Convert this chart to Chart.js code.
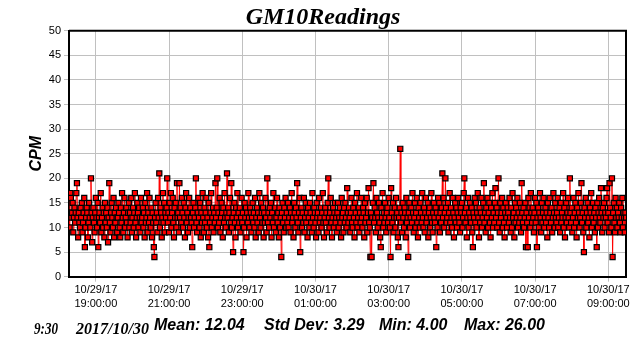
<!DOCTYPE html>
<html>
<head>
<meta charset="utf-8">
<title>GM10Readings</title>
<script src="https://cdn.jsdelivr.net/npm/chart.js@4/dist/chart.umd.min.js"></script>
<style>
  html, body { margin: 0; padding: 0; background: #ffffff; }
  #wrap { width: 644px; height: 347px; position: relative; }
</style>
</head>
<body>
<div id="wrap"><canvas id="c" width="644" height="347"></canvas></div>
<script>
// GM10 counts per minute, one reading each minute from 10/29/17 18:16 to 10/30/17 09:30
const cpm = [
  13,10,17,16,12,13,15,9,12,14,11,13,17,19,12,8,13,11,10,14,
  12,15,9,11,13,16,6,10,12,14,13,8,11,15,12,10,20,13,7,12,
  14,11,9,13,16,12,10,15,6,12,13,11,17,9,12,14,10,13,8,15,
  11,13,10,14,7,12,19,11,9,13,15,12,10,16,8,13,11,14,12,9,
  12,15,13,10,8,14,11,17,12,9,13,16,10,12,14,11,8,13,15,10,
  13,11,16,9,12,14,10,13,17,11,8,12,15,13,10,14,12,9,16,11,
  12,14,10,13,8,15,11,12,17,9,13,11,16,12,10,14,8,13,11,6,
  4,12,15,11,13,9,16,12,21,10,14,13,8,12,17,11,15,9,13,12,
  14,20,11,13,9,15,12,17,10,13,16,11,8,14,12,15,10,19,12,13,
  9,19,12,14,11,16,13,10,15,12,8,14,17,11,13,9,12,16,10,14,
  12,11,6,13,15,10,12,14,20,11,9,13,16,12,10,15,8,13,11,17,
  12,9,14,11,13,16,10,12,8,15,6,11,13,17,10,12,14,9,13,11,
  19,12,14,20,10,13,11,16,9,12,15,13,8,14,11,17,12,10,13,21,
  12,14,9,13,16,11,19,10,12,5,13,15,11,8,14,12,17,10,13,11,
  14,9,12,16,11,13,5,10,15,12,14,8,13,11,17,12,10,14,13,9,
  12,15,11,13,10,16,8,12,14,11,13,9,17,12,10,15,13,11,14,8,
  13,11,16,12,9,20,11,13,10,14,12,15,8,13,11,17,10,12,14,9,
  12,16,11,13,8,14,10,12,4,13,15,11,9,14,12,16,10,13,11,15,
  10,12,14,9,13,17,11,12,8,15,13,10,14,12,19,11,9,13,16,5,
  12,14,10,13,11,16,9,12,15,11,13,8,14,12,10,15,13,11,9,17,
  12,10,14,13,11,8,15,12,13,9,16,11,12,14,10,13,17,11,8,12,
  14,11,13,9,15,20,12,10,13,16,11,8,12,14,10,13,15,11,12,9,
  13,15,10,12,14,11,8,16,12,13,9,14,11,15,12,10,18,13,11,14,
  12,9,13,16,11,10,14,12,8,15,13,11,17,10,12,14,9,13,11,16,
  12,10,14,13,8,15,11,12,16,9,13,18,11,10,4,13,4,12,15,19,
  11,14,12,9,16,13,10,12,15,11,8,6,14,12,17,10,13,11,15,12,
  9,13,14,11,16,12,10,4,18,13,11,15,9,12,14,10,16,12,13,8,
  6,12,14,26,11,13,9,15,12,10,14,13,8,16,11,12,4,13,15,10,
  12,14,11,17,13,9,12,15,10,13,16,11,8,14,12,10,15,13,11,17,
  12,10,14,9,13,16,11,12,15,8,13,14,10,12,17,11,9,13,15,12,
  11,14,6,13,10,16,12,15,9,13,11,14,21,12,16,10,13,20,14,11,
  12,15,9,13,17,11,14,12,10,16,13,8,12,15,11,14,10,13,16,12,
  11,9,14,13,15,10,12,17,20,13,11,14,8,12,16,10,13,15,12,11,
  14,9,6,13,12,16,11,15,10,13,17,12,8,14,11,13,16,10,12,15,
  19,11,13,9,14,12,16,10,13,15,11,8,14,12,17,10,13,11,15,18,
  12,14,10,13,20,11,9,15,12,13,16,10,14,11,8,13,15,12,10,14,
  13,11,16,12,9,14,10,17,12,13,8,15,11,14,12,16,10,13,11,15,
  12,9,19,13,11,14,10,12,15,6,13,11,6,16,12,14,10,17,13,11,
  14,12,9,13,16,11,15,6,12,14,10,13,17,12,9,15,11,13,16,10,
  12,14,11,13,8,15,12,10,16,13,11,14,9,12,17,13,10,15,12,11,
  13,16,10,12,14,9,15,11,13,12,17,10,14,8,12,15,11,13,16,12,
  10,20,13,11,14,9,12,16,10,13,15,11,8,14,12,17,13,10,12,15,
  19,11,13,9,5,14,12,16,10,13,15,11,12,8,14,13,17,10,12,15,
  11,13,9,14,12,6,15,10,13,16,12,11,18,13,9,14,12,15,10,13,
  12,16,18,11,13,9,19,14,12,10,20,4,13,15,11,9,16,12,14,10,
  13,12,15,11,9,14,12,16,10,13,12,9,13,12
];

// Tick positions in minutes after the first reading, with their date and time labels
const tickMinutes = [44, 164, 284, 404, 524, 644, 764, 884];
const tickDates = ['10/29/17', '10/29/17', '10/29/17', '10/30/17', '10/30/17', '10/30/17', '10/30/17', '10/30/17'];
const tickTimes = ['19:00:00', '21:00:00', '23:00:00', '01:00:00', '03:00:00', '05:00:00', '07:00:00', '09:00:00'];

// Title and summary figures printed around the plot
const chartTitle = 'GM10Readings';
const statMean = 12.04;
const statStdDev = 3.29;
const statMin = 4.00;
const statMax = 26.00;
const stampTime = '9:30';
const stampDate = '2017/10/30';

const points = cpm.map((v, i) => ({ x: i, y: v }));
const lastMinute = cpm.length - 1;
const meanLine = [{ x: 0, y: statMean }, { x: lastMinute, y: statMean }];

// Black frame on the top and right of the plot area
const framePlugin = {
  id: 'frame',
  beforeDatasetsDraw(chart) {
    const { ctx, chartArea: a } = chart;
    ctx.save();
    ctx.strokeStyle = '#000000';
    ctx.lineWidth = 2;
    ctx.beginPath();
    ctx.moveTo(a.left, a.top);
    ctx.lineTo(a.right, a.top);
    ctx.lineTo(a.right, a.bottom);
    ctx.stroke();
    ctx.restore();
  }
};

// Heading centred on the page, date stamp and statistics line at the foot
const textPlugin = {
  id: 'texts',
  afterDraw(chart) {
    const ctx = chart.ctx;
    ctx.save();
    ctx.fillStyle = '#000000';
    ctx.textBaseline = 'alphabetic';
    ctx.textAlign = 'center';
    ctx.font = 'italic bold 24px "Liberation Serif"';
    ctx.fillText(chartTitle, 323, 24);
    ctx.textAlign = 'left';
    ctx.font = 'italic bold 16px "Liberation Serif"';
    ctx.fillText(stampTime, 34, 334, 24);
    ctx.fillText(stampDate, 76, 334);
    ctx.font = 'italic bold 16px "Liberation Sans"';
    ctx.fillText('Mean: ' + statMean.toFixed(2), 154, 330);
    ctx.fillText('Std Dev: ' + statStdDev.toFixed(2), 264, 330);
    ctx.fillText('Min: ' + statMin.toFixed(2), 379, 330);
    ctx.fillText('Max: ' + statMax.toFixed(2), 464, 330);
    ctx.restore();
  }
};

new Chart(document.getElementById('c'), {
  type: 'line',
  data: {
    datasets: [
      {
        label: 'CPM',
        data: points,
        borderColor: '#ff0000',
        borderWidth: 1,
        backgroundColor: '#ff0000',
        pointStyle: 'rect',
        pointRadius: 3.6,
        pointBorderWidth: 1.2,
        pointBorderColor: '#000000',
        pointBackgroundColor: '#ff0000',
        tension: 0,
        order: 1
      },
      {
        label: 'Mean',
        data: meanLine,
        borderColor: '#86d46a',
        borderWidth: 1,
        borderDash: [4, 4],
        pointRadius: 0,
        order: 2
      }
    ]
  },
  options: {
    responsive: false,
    animation: false,
    devicePixelRatio: 1,
    layout: { padding: { top: 30.7, right: 18, bottom: 0, left: 0 } },
    plugins: {
      legend: { display: false },
      tooltip: { enabled: false },
      title: { display: false }
    },
    scales: {
      x: {
        type: 'linear',
        min: 0,
        max: lastMinute,
        afterBuildTicks(scale) {
          scale.ticks = tickMinutes.map(v => ({ value: v }));
        },
        afterFit(scale) { scale.height = 70.3; },
        grid: { color: '#c0c0c0', tickColor: '#c0c0c0', tickLength: 5, lineWidth: 1 },
        border: { color: '#000000', width: 2 },
        ticks: {
          autoSkip: false,
          maxRotation: 0,
          minRotation: 0,
          padding: 2,
          color: '#000000',
          font: { family: '"Liberation Sans"', size: 11 },
          callback(value, index) { return [tickDates[index], tickTimes[index]]; }
        }
      },
      y: {
        min: 0,
        max: 50,
        afterFit(scale) { scale.width = 69; },
        grid: { color: '#c0c0c0', tickColor: '#c0c0c0', tickLength: 5, lineWidth: 1 },
        border: { color: '#000000', width: 2 },
        ticks: {
          stepSize: 5,
          padding: 3,
          color: '#000000',
          font: { family: '"Liberation Sans"', size: 11 }
        },
        title: {
          display: true,
          text: 'CPM',
          color: '#000000',
          font: { family: '"Liberation Sans"', size: 16, weight: 'bold', style: 'italic' },
          padding: { top: 27, bottom: 0 }
        }
      }
    }
  },
  plugins: [framePlugin, textPlugin]
});
</script>
</body>
</html>
